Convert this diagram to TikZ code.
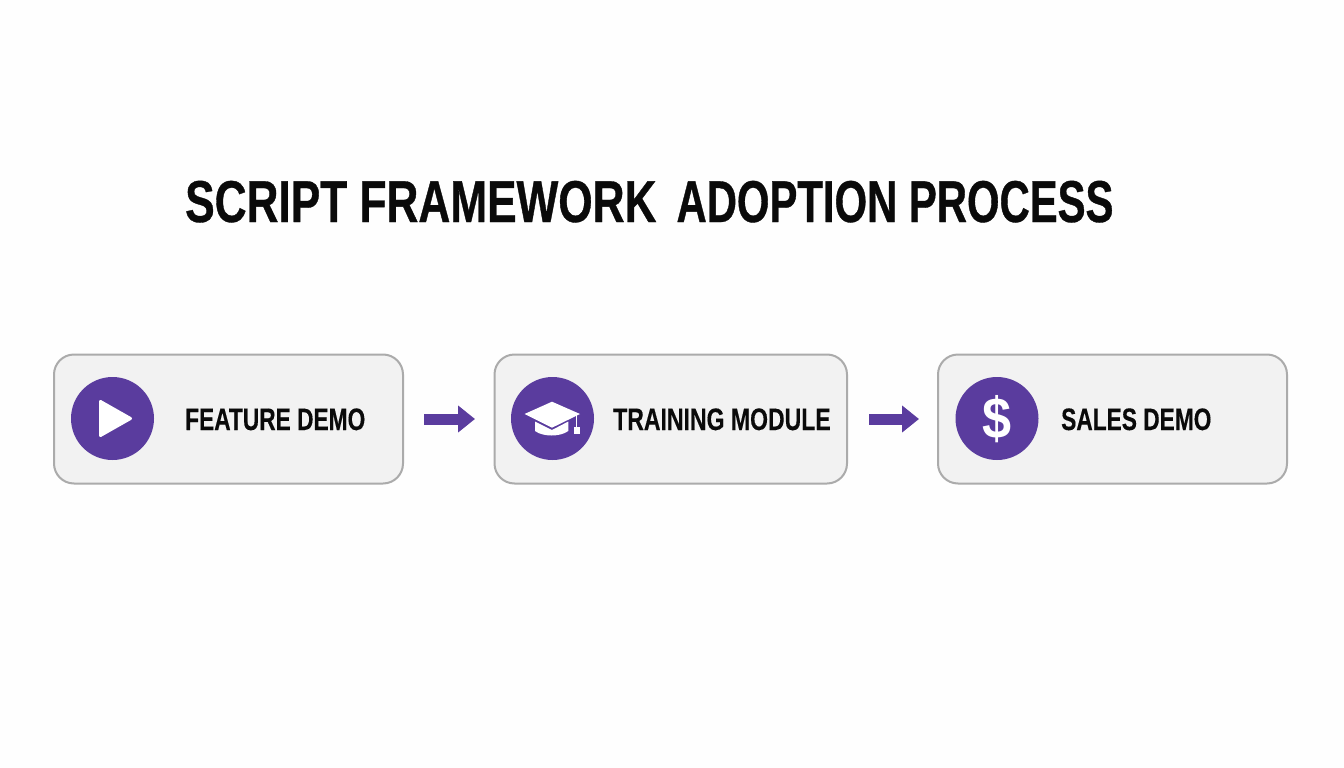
\documentclass[tikz,border=0pt]{standalone}
\usepackage{fontspec}
\usetikzlibrary{arrows.meta,shapes.geometric}
\setmainfont{Liberation Sans}
\newfontfamily\narrowbold[FakeStretch=0.733,FakeBold=0.3]{Liberation Sans Bold}
\newfontfamily\narrowboldB[FakeStretch=0.743,FakeBold=0.3]{Liberation Sans Bold}
\newfontfamily\titleA[FakeStretch=0.749,FakeBold=0.6]{Liberation Sans Bold}
\newfontfamily\titleB[FakeStretch=0.709,FakeBold=0.6]{Liberation Sans Bold}
\newfontfamily\dollarfont[FakeStretch=0.9]{Liberation Sans Bold}
\definecolor{purp}{HTML}{5A3C9E}
\definecolor{boxfill}{HTML}{F2F2F2}
\definecolor{boxline}{HTML}{ABABAB}
\definecolor{ink}{HTML}{0A0A0A}
\definecolor{page}{HTML}{FEFEFE}
\tikzset{
  x=1pt,y=-1pt,
  card/.style={draw=boxline,fill=boxfill,line width=2pt,rounded corners=20pt,inner sep=0pt,minimum height=129pt},
  disc/.style={circle,fill=purp,minimum size=83pt,inner sep=0pt},
  label/.style={anchor=base west,inner sep=0pt,text=ink,font=\narrowbold\fontsize{31}{31}\selectfont},
  flow/.style={draw=purp,line width=11pt,-{Triangle[width=26pt,length=17pt,fill=purp]}}
}
\begin{document}
\begin{tikzpicture}
\useasboundingbox[fill=page] (0,0) rectangle (1344,768);
\node[anchor=base west,inner sep=0pt,text=ink,font=\fontsize{59}{59}\selectfont] (title) at (185,222) {{\titleA SCRIPT FRAMEWORK}\hspace{20pt}{\titleB ADOPTION PROCESS}};
\node[card,minimum width=349pt] (b1) at (228.5,419) {};
\node[card,minimum width=352.5pt] (b2) at (670.75,419) {};
\node[card,minimum width=349pt] (b3) at (1112.5,419) {};
\node[disc] (c1) at (112.5,418.5) {};
\node[disc] (c2) at (552.5,418.5) {};
\node[disc] (c3) at (997,418.5) {};
% play icon
\fill[white,draw=white,line width=3pt,line join=round] (100.5,401.5) -- (130.5,418.5) -- (100.5,435.5) -- cycle;
% graduation cap icon
\fill[white] (524.5,414) -- (552,401.7) -- (580,414) -- (552,427.7) -- cycle;
\fill[white] (535,421.5) -- (552,430) -- (568.3,421.5) -- (568.3,431) .. controls (560,437) and (543,437) .. (535,431) -- cycle;
\draw[white,line width=1.2pt] (576.7,415) -- (576.7,427);
\fill[white] (573.5,426.5) rectangle (579.5,433.5);
% dollar icon
\node[inner sep=0pt,text=white,font=\dollarfont\fontsize{58}{58}\selectfont] (d) at (997,418.7) {\$};
\node[label] (t1) at (185,430) {FEATURE DEMO};
\node[label,font=\narrowboldB\fontsize{31}{31}\selectfont] (t2) at (613,430) {TRAINING MODULE};
\node[label] (t3) at (1061,430) {SALES DEMO};
\draw[flow,shorten <=20pt,shorten >=18.5pt] (b1) -- (b2);
\draw[flow,shorten <=21pt,shorten >=18pt] (b2) -- (b3);
\end{tikzpicture}
\end{document}
